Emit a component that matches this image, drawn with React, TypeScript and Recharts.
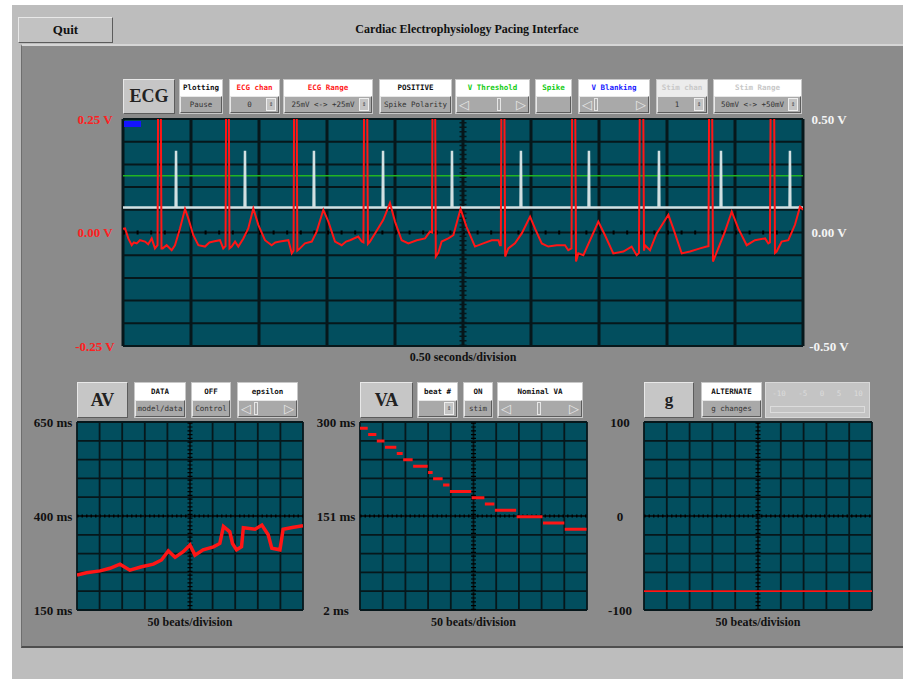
import React from 'react';
import { LineChart, Line, XAxis, YAxis, CartesianGrid, ReferenceLine } from 'recharts';

const SERIF = '"Liberation Serif", "DejaVu Serif", serif';
const MONO = '"DejaVu Sans Mono", "Liberation Mono", monospace';
const TEAL = '#024e5e';
const GRID = '#06171b';
const TRACE = '#ff1616';

// ECG strip (seconds / volts), 0.5 s per division
const ecgTime = [
  0.000, 0.015, 0.039, 0.064, 0.080, 0.101, 0.125, 0.162, 0.185, 0.211, 0.235, 0.254, 0.267, 0.283,
  0.292, 0.321, 0.358, 0.382, 0.419, 0.456, 0.480, 0.517, 0.554, 0.603, 0.635, 0.664, 0.713, 0.737,
  0.754, 0.767, 0.783, 0.799, 0.824, 0.848, 0.885, 0.921, 0.958, 0.995, 1.044, 1.093, 1.120, 1.154,
  1.216, 1.241, 1.254, 1.267, 1.282, 1.301, 1.338, 1.388, 1.424, 1.473, 1.510, 1.559, 1.608, 1.640,
  1.669, 1.730, 1.755, 1.768, 1.783, 1.801, 1.816, 1.853, 1.914, 1.963, 2.000, 2.049, 2.098, 2.160,
  2.221, 2.257, 2.272, 2.285, 2.300, 2.318, 2.343, 2.392, 2.429, 2.482, 2.527, 2.588, 2.649, 2.711,
  2.760, 2.772, 2.778, 2.792, 2.810, 2.833, 2.882, 2.932, 2.993, 3.029, 3.079, 3.127, 3.189, 3.250,
  3.274, 3.298, 3.313, 3.331, 3.348, 3.385, 3.446, 3.495, 3.544, 3.605, 3.679, 3.740, 3.777, 3.794,
  3.813, 3.831, 3.838, 3.875, 3.924, 4.010, 4.046, 4.108, 4.169, 4.243, 4.292, 4.305, 4.320, 4.338,
  4.377, 4.426, 4.476, 4.524, 4.586, 4.647, 4.721, 4.745, 4.757, 4.774, 4.794, 4.806, 4.843, 4.892,
  4.941, 4.978, 5.000,
];
const ecgVolt = [
  0.008, 0.009, -0.013, -0.028, -0.022, -0.024, -0.017, -0.020, -0.026, -0.013, -0.035, -0.028, 1.0, -0.035,
  -0.035, -0.028, -0.039, -0.028, 0.009, 0.052, 0.031, -0.006, -0.028, -0.031, -0.022, -0.020, -0.017, -0.035,
  -0.030, 1.0, -0.035, -0.031, -0.020, -0.031, -0.013, 0.009, 0.053, 0.017, -0.017, -0.028, -0.022, -0.020,
  -0.017, -0.046, -0.040, 1.0, -0.040, -0.035, -0.024, -0.020, 0.002, 0.050, 0.024, -0.020, -0.028, -0.020,
  -0.017, -0.009, -0.020, -0.022, 1.0, -0.025, -0.020, -0.002, 0.028, 0.065, 0.024, -0.017, -0.024, -0.017,
  -0.013, 0.002, 0.000, 1.0, -0.053, -0.045, -0.020, -0.013, -0.006, 0.052, 0.012, -0.031, -0.024, -0.017,
  -0.017, -0.028, -0.028, 1.0, -0.053, -0.035, -0.024, -0.002, 0.035, 0.009, -0.024, -0.031, -0.028, -0.028,
  -0.039, -0.035, 1.0, -0.064, -0.046, -0.050, -0.009, 0.024, -0.006, -0.046, -0.042, -0.031, -0.050, -0.045,
  1.0, -0.040, -0.028, -0.039, -0.002, 0.039, 0.009, -0.046, -0.042, -0.035, -0.031, -0.030, 1.0, -0.064,
  -0.035, 0.002, 0.046, 0.009, -0.028, -0.017, -0.013, -0.024, -0.022, 1.0, -0.045, -0.042, -0.020, -0.017,
  0.017, 0.057, 0.050,
];
const ecgTimeTicks = [0, 0.5, 1, 1.5, 2, 2.5, 3, 3.5, 4, 4.5, 5];
const ecgVoltTicks = [-0.25, -0.2, -0.15, -0.1, -0.05, 0, 0.05, 0.1, 0.15, 0.2, 0.25];
const stimVoltTicks = [-0.5, 0, 0.5];

// stimulus channel: pacing spike times, baseline and spike height
const paceTimes = [0.390, 0.897, 1.404, 1.912, 2.419, 2.926, 3.426, 3.941, 4.397, 4.904];
const paceBase = 0.11;
const paceTop = 0.36;
const vThreshold = 0.25;

// AV interval vs beat
const avBeats = [0, 21, 51, 73, 95, 117, 143, 169, 187, 202, 217, 235, 250, 261, 279, 302, 316, 324, 338, 344, 353, 364, 368, 394, 409, 423, 431, 449, 456, 479, 500];
const avMs = [243, 249, 254, 261, 272, 256, 265, 272, 283, 307, 290, 305, 323, 296, 310, 318, 327, 372, 358, 327, 310, 318, 369, 365, 376, 350, 314, 310, 365, 370, 374];
const avTicks = [150, 200, 250, 300, 350, 400, 450, 500, 550, 600, 650];

// VA interval, stepped down every few beats
const vaBreaks = [0, 18, 37, 55, 81, 95, 117, 150, 161, 183, 198, 246, 275, 297, 345, 403, 451, 500];
const vaMs = [290, 280, 270, 260, 250, 240, 230, 220, 210, 200, 190, 180, 170, 160, 150, 140, 130];
const vaTicks = [2, 31.8, 61.6, 91.4, 121.2, 151, 180.8, 210.6, 240.4, 270.2, 300];

// g
const gBeats = [0, 500];
const gValues = [-80, -80];
const gTicks = [-100, -80, -60, -40, -20, 0, 20, 40, 60, 80, 100];

const beatTicks = [0, 50, 100, 150, 200, 250, 300, 350, 400, 450, 500];

const ecgData = ecgTime.map((t, i) => ({ t, v: ecgVolt[i] }));
const paceData = [
  { t: 0, v: paceBase },
  ...paceTimes.flatMap((t) => [
    { t: t - 0.003, v: paceBase },
    { t, v: paceTop },
    { t: t + 0.003, v: paceBase },
  ]),
  { t: 5, v: paceBase },
];
const avData = avBeats.map((t, i) => ({ t, v: avMs[i] }));
const vaData = vaMs.flatMap((v, i) => [
  { t: vaBreaks[i], v },
  { t: vaBreaks[i + 1] - 1, v },
  { t: vaBreaks[i + 1] - 0.5, v: null },
]);
const gData = gBeats.map((t, i) => ({ t, v: gValues[i] }));

const emptyTick = () => <g />;

const axisTick = (labels: Record<string, string>, color: string, dx: number) => (props: any) => {
  const text = labels[String(props.payload.value)];
  if (!text) return <g />;
  return (
    <text x={props.x + dx} y={props.y} dy={4.5} textAnchor="middle" fill={color}
      fontFamily={SERIF} fontWeight="bold" fontSize={13}>
      {text}
    </text>
  );
};

const bevel: React.CSSProperties = {
  borderTop: '1px solid #e8e8e8', borderLeft: '1px solid #e8e8e8',
  borderRight: '1px solid #5c5c5c', borderBottom: '1px solid #5c5c5c',
  boxSizing: 'border-box',
};

function BigButton({ x, y, w, h, label, size }: any) {
  return (
    <div style={{ ...bevel, position: 'absolute', left: x, top: y, width: w, height: h, background: '#c6c6c6',
      display: 'flex', alignItems: 'center', justifyContent: 'center',
      fontFamily: SERIF, fontWeight: 'bold', fontSize: size, color: '#222' }}>
      {label}
    </div>
  );
}

function Ctrl({ x, y, w, h = 35, top, color = '#111', topBg = '#fff', children }: any) {
  const half = Math.floor(h / 2);
  return (
    <div style={{ position: 'absolute', left: x, top: y, width: w, height: h, background: '#a9a9a9', border: '1px solid #c8c8c8', boxSizing: 'border-box' }}>
      <div style={{ height: half - 1, background: topBg, color, fontFamily: MONO, fontSize: 7.5, fontWeight: 'bold',
        textAlign: 'center', lineHeight: `${half - 1}px`, whiteSpace: 'nowrap', overflow: 'hidden' }}>{top}</div>
      <div style={{ height: h - half - 1, display: 'flex', alignItems: 'center', justifyContent: 'center',
        fontFamily: MONO, fontSize: 7.5, color: '#333', whiteSpace: 'nowrap', overflow: 'hidden', ...bevel }}>{children}</div>
    </div>
  );
}

const Spin = ({ text }: any) => (
  <span style={{ display: 'flex', width: '100%', alignItems: 'center', justifyContent: 'space-between', padding: '0 2px', boxSizing: 'border-box' }}>
    <span style={{ flex: 1, textAlign: 'center' }}>{text}</span>
    <span style={{ width: 8, height: 11, border: '1px solid #eee', background: '#c4c4c4', fontSize: 7, lineHeight: '11px', textAlign: 'center' }}>⇕</span>
  </span>
);

const Slider = ({ thumb = 0.5 }: any) => (
  <span style={{ display: 'flex', width: '100%', alignItems: 'center', justifyContent: 'space-between', color: '#e6e6e6', fontSize: 13, fontFamily: '"DejaVu Sans", sans-serif', padding: '0 2px', boxSizing: 'border-box' }}>
    <span>◁</span>
    <span style={{ flex: 1, position: 'relative', height: 14 }}>
      <span style={{ position: 'absolute', left: `${thumb * 100}%`, top: 0, width: 4, height: 13, border: '1px solid #e6e6e6', boxSizing: 'border-box' }} />
    </span>
    <span>▷</span>
  </span>
);

function SmallPlot({ left, top, width, data, domain, ticks, labels, center, strokeWidth }: any) {
  const plotH = 188;
  return (
    <div style={{ position: 'absolute', left: left - 60, top: top - 6 }}>
      <LineChart width={width + 64} height={plotH + 30} margin={{ top: 6, right: 4, bottom: 0, left: 0 }}>
        <CartesianGrid stroke={GRID} strokeWidth={1.8} fill={TEAL} fillOpacity={1} />
        <XAxis type="number" dataKey="t" domain={[0, 500]} ticks={beatTicks} allowDataOverflow interval={0}
          tick={emptyTick} tickLine={false} axisLine={false} height={24}
          label={{ value: '50 beats/division', position: 'insideBottom', offset: 8, fill: '#111', fontSize: 12, fontWeight: 'bold', fontFamily: SERIF }} />
        <YAxis type="number" domain={domain} ticks={ticks} allowDataOverflow interval={0} width={60}
          tickSize={0} tickMargin={0} axisLine={false} tickLine={false} tick={axisTick(labels, '#111', -24)} />
        <ReferenceLine y={center} stroke="#000" strokeWidth={3} strokeDasharray="1.5 3" />
        <ReferenceLine x={250} stroke="#000" strokeWidth={5} strokeDasharray="1.2 2.6" />
        <Line data={data} dataKey="v" type="linear" stroke={TRACE} strokeWidth={strokeWidth} dot={false} isAnimationActive={false} />
      </LineChart>
    </div>
  );
}

export default function App() {
  return (
    <div style={{ position: 'fixed', left: 0, top: 0, width: 903, height: 679, background: '#fff', overflow: 'hidden', fontFamily: SERIF }}>
      <div style={{ position: 'absolute', left: 12, top: 5, width: 891, height: 674, background: '#bdbdbd' }} />
      <div style={{ position: 'absolute', left: 21, top: 44, width: 882, height: 604, background: '#8b8b8b',
        borderTop: '2px solid #d6d6d6', borderLeft: '1px solid #6e6e6e', borderBottom: '2px solid #4e4e4e', boxSizing: 'border-box' }} />

      <div style={{ ...bevel, position: 'absolute', left: 18, top: 17, width: 95, height: 26, background: '#c2c2c2',
        display: 'flex', alignItems: 'center', justifyContent: 'center', fontWeight: 'bold', fontSize: 13, color: '#111' }}>Quit</div>
      <div style={{ position: 'absolute', left: 267, top: 22, width: 400, textAlign: 'center', fontWeight: 'bold', fontSize: 12, color: '#111' }}>
        Cardiac Electrophysiology Pacing Interface
      </div>

      {/* ECG controls */}
      <BigButton x={123} y={79} w={52} h={35} label="ECG" size={18} />
      <Ctrl x={179} y={79} w={44} top="Plotting">Pause</Ctrl>
      <Ctrl x={229} y={79} w={51} top="ECG chan" color="#ff1a1a"><Spin text="0" /></Ctrl>
      <Ctrl x={283} y={79} w={90} top="ECG Range" color="#ff1a1a"><Spin text="25mV <-> +25mV" /></Ctrl>
      <Ctrl x={379} y={79} w={73} top="POSITIVE">Spike Polarity</Ctrl>
      <Ctrl x={455} y={79} w={75} top="V Threshold" color="#14cc14"><Slider thumb={0.6} /></Ctrl>
      <Ctrl x={535} y={79} w={37} top="Spike" color="#14cc14"> </Ctrl>
      <Ctrl x={578} y={79} w={72} top="V Blanking" color="#1a1aff"><Slider thumb={0.05} /></Ctrl>
      <Ctrl x={656} y={79} w={52} top="Stim chan" color="#c8c8c8" topBg="#ececec"><Spin text="1" /></Ctrl>
      <Ctrl x={713} y={79} w={89} top="Stim Range" color="#c8c8c8"><Spin text="50mV <-> +50mV" /></Ctrl>

      {/* ECG strip */}
      <div style={{ position: 'absolute', left: 63, top: 111 }}>
        <LineChart width={800} height={259} margin={{ top: 8, right: 0, bottom: 0, left: 0 }}>
          <CartesianGrid yAxisId="left" horizontal={false} stroke={GRID} strokeWidth={3} fill={TEAL} fillOpacity={1} />
          <CartesianGrid yAxisId="left" vertical={false} stroke={GRID} strokeWidth={2} />
          <XAxis type="number" dataKey="t" domain={[0, 5]} ticks={ecgTimeTicks} allowDataOverflow interval={0}
            tick={emptyTick} tickLine={false} axisLine={false} height={24}
            label={{ value: '0.50 seconds/division', position: 'insideBottom', offset: 9, fill: '#111', fontSize: 12, fontWeight: 'bold', fontFamily: SERIF }} />
          <YAxis yAxisId="left" type="number" domain={[-0.25, 0.25]} ticks={ecgVoltTicks} allowDataOverflow interval={0} width={60}
            tickSize={0} tickMargin={0} axisLine={false} tickLine={false}
            tick={axisTick({ '0.25': '0.25 V', '0': '0.00 V', '-0.25': '-0.25 V' }, '#ff2020', -28)} />
          <YAxis yAxisId="right" orientation="right" type="number" domain={[-0.5, 0.5]} ticks={stimVoltTicks} allowDataOverflow interval={0} width={60}
            tickSize={0} tickMargin={0} axisLine={false} tickLine={false}
            tick={axisTick({ '0.5': '0.50 V', '0': '0.00 V', '-0.5': '-0.50 V' }, '#f4f4f4', 26)} />
          <ReferenceLine yAxisId="left" y={0} stroke="#000" strokeWidth={4} strokeDasharray="2 11.6" />
          <ReferenceLine yAxisId="left" x={2.5} stroke={GRID} strokeWidth={7} strokeDasharray="1.5 3.04" />
          <ReferenceLine yAxisId="right" y={vThreshold} stroke="#22b422" strokeWidth={1.5} />
          <Line yAxisId="right" data={paceData} dataKey="v" type="linear" stroke="#d2e0e2" strokeWidth={2.5} dot={false} isAnimationActive={false} />
          <Line yAxisId="left" data={ecgData} dataKey="v" type="linear" stroke={TRACE} strokeWidth={2} dot={false} isAnimationActive={false} />
        </LineChart>
      </div>
      <div style={{ position: 'absolute', left: 124, top: 121, width: 17, height: 6, background: '#1414ff' }} />

      {/* AV panel */}
      <BigButton x={77} y={382} w={51} h={36} label="AV" size={18} />
      <Ctrl x={134} y={382} w={52} h={36} top="DATA">model/data</Ctrl>
      <Ctrl x={191} y={382} w={40} h={36} top="OFF">Control</Ctrl>
      <Ctrl x={237} y={382} w={61} h={36} top="epsilon"><Slider thumb={0.1} /></Ctrl>
      <SmallPlot left={77} top={422} width={226} data={avData} domain={[150, 650]} ticks={avTicks}
        labels={{ '650': '650 ms', '400': '400 ms', '150': '150 ms' }} center={400} strokeWidth={3.5} />

      {/* VA panel */}
      <BigButton x={360} y={382} w={53} h={36} label="VA" size={18} />
      <Ctrl x={417} y={382} w={41} h={36} top="beat #"><Spin text="" /></Ctrl>
      <Ctrl x={463} y={382} w={30} h={36} top="ON">stim</Ctrl>
      <Ctrl x={497} y={382} w={86} h={36} top="Nominal VA"><Slider thumb={0.45} /></Ctrl>
      <SmallPlot left={360} top={422} width={227} data={vaData} domain={[2, 300]} ticks={vaTicks}
        labels={{ '300': '300 ms', '151': '151 ms', '2': '2 ms' }} center={151} strokeWidth={3} />

      {/* g panel */}
      <BigButton x={644} y={382} w={50} h={36} label="g" size={17} />
      <Ctrl x={701} y={382} w={61} h={36} top="ALTERNATE">g changes</Ctrl>
      <div style={{ position: 'absolute', left: 765, top: 382, width: 105, height: 36, background: '#c4c4c4', border: '1px solid #d8d8d8', boxSizing: 'border-box',
        fontFamily: MONO, fontSize: 7.5, color: '#dcdcdc' }}>
        <div style={{ display: 'flex', justifyContent: 'space-around', paddingTop: 6 }}>
          <span>-10</span><span>-5</span><span>0</span><span>5</span><span>10</span>
        </div>
        <div style={{ margin: '8px 4px 0', height: 5, border: '1px solid #dcdcdc' }} />
      </div>
      <SmallPlot left={644} top={422} width={228} data={gData} domain={[-100, 100]} ticks={gTicks}
        labels={{ '100': '100', '0': '0', '-100': '-100' }} center={0} strokeWidth={1.8} />
    </div>
  );
}
